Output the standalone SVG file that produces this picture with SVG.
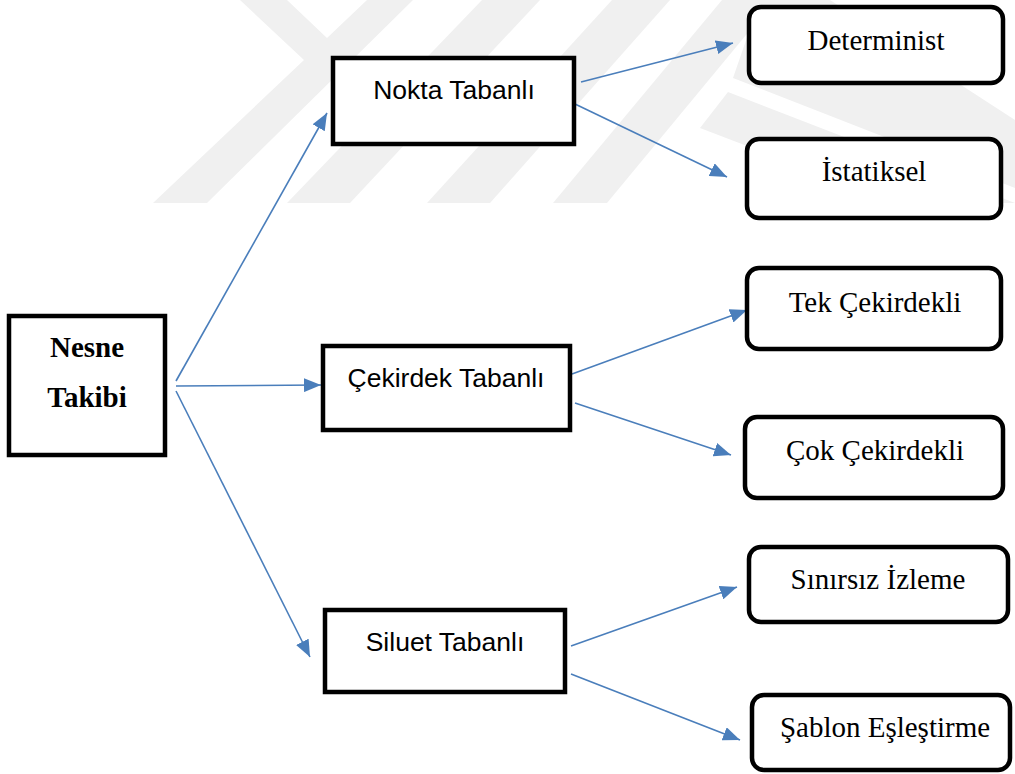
<svg xmlns="http://www.w3.org/2000/svg" width="1015" height="774" viewBox="0 0 1015 774">
  <style>
    .wm { fill: #f0f0f0; }
    .sq { fill: #ffffff; stroke: #000000; stroke-width: 4.5; }
    .rd { fill: #ffffff; stroke: #000000; stroke-width: 4.5; }
    .sans { font-family: "Liberation Sans", Arial, sans-serif; font-size: 26.5px; fill: #000000; text-anchor: middle; }
    .serif { font-family: "Liberation Serif", "Times New Roman", serif; font-size: 29px; fill: #000000; text-anchor: middle; }
    .bold { font-weight: bold; }
    .conn { stroke: #4a7ebb; stroke-width: 1.6; fill: none; marker-end: url(#ah); }
  </style>
  <defs>
    <marker id="ah" markerUnits="userSpaceOnUse" markerWidth="18" markerHeight="14" refX="17" refY="7" orient="auto">
      <path d="M0,0 L17,7 L0,14 z" fill="#4a7ebb"/>
    </marker>
  </defs>
  <rect width="1015" height="774" fill="#ffffff"/>
  <g id="watermark">
    <polygon class="wm" points="240,0 287,0 327,38 367,0 413,0 207,203 153,203 304,60"/>
    <polygon class="wm" points="482,0 540,0 350,203 287,203"/>
    <polygon class="wm" points="612,0 670,0 490,203 427,203"/>
    <polygon class="wm" points="722,0 775,0 607,203 553,203"/>
    <polygon class="wm" points="760,0 830,0 1015,120 1015,188 733,78"/>
    <polygon class="wm" points="728,92 1015,203 895,203 700,128"/>
  </g>
  <g id="connectors">
    <line class="conn" x1="176" y1="381" x2="327" y2="113"/>
    <line class="conn" x1="176" y1="386" x2="321" y2="385"/>
    <line class="conn" x1="176" y1="391" x2="310" y2="657"/>
    <line class="conn" x1="581" y1="82" x2="733" y2="43"/>
    <line class="conn" x1="575" y1="104" x2="727" y2="177"/>
    <line class="conn" x1="572" y1="374" x2="747" y2="310"/>
    <line class="conn" x1="575" y1="403" x2="731" y2="455"/>
    <line class="conn" x1="571" y1="646" x2="737" y2="587"/>
    <line class="conn" x1="571" y1="674" x2="740" y2="740"/>
  </g>
  <g id="nesne-takibi">
    <rect class="sq" x="9" y="316" width="156" height="139"/>
    <text class="serif bold" x="87" y="357">Nesne</text>
    <text class="serif bold" x="87" y="407">Takibi</text>
  </g>
  <g id="nokta-tabanli">
    <rect class="sq" x="333" y="58" width="241" height="86"/>
    <text class="sans" x="454" y="99">Nokta Tabanlı</text>
  </g>
  <g id="cekirdek-tabanli">
    <rect class="sq" x="323" y="346" width="247" height="84"/>
    <text class="sans" x="446" y="387">Çekirdek Tabanlı</text>
  </g>
  <g id="siluet-tabanli">
    <rect class="sq" x="325" y="610" width="240" height="82"/>
    <text class="sans" x="445" y="651">Siluet Tabanlı</text>
  </g>
  <g id="determinist">
    <rect class="rd" x="749" y="7" width="254" height="76" rx="12"/>
    <text class="serif" x="876" y="50">Determinist</text>
  </g>
  <g id="istatiksel">
    <rect class="rd" x="747" y="139" width="254" height="79" rx="12"/>
    <text class="serif" x="874" y="181">İstatiksel</text>
  </g>
  <g id="tek-cekirdekli">
    <rect class="rd" x="747" y="268" width="254" height="81" rx="12"/>
    <text class="serif" x="875" y="312">Tek Çekirdekli</text>
  </g>
  <g id="cok-cekirdekli">
    <rect class="rd" x="745" y="417" width="258" height="81" rx="12"/>
    <text class="serif" x="875" y="460">Çok Çekirdekli</text>
  </g>
  <g id="sinirsiz-izleme">
    <rect class="rd" x="749" y="547" width="259" height="75" rx="12"/>
    <text class="serif" x="878" y="589">Sınırsız İzleme</text>
  </g>
  <g id="sablon-eslestirme">
    <rect class="rd" x="752" y="695" width="258" height="75" rx="12"/>
    <text class="serif" x="885" y="737">Şablon Eşleştirme</text>
  </g>
</svg>
